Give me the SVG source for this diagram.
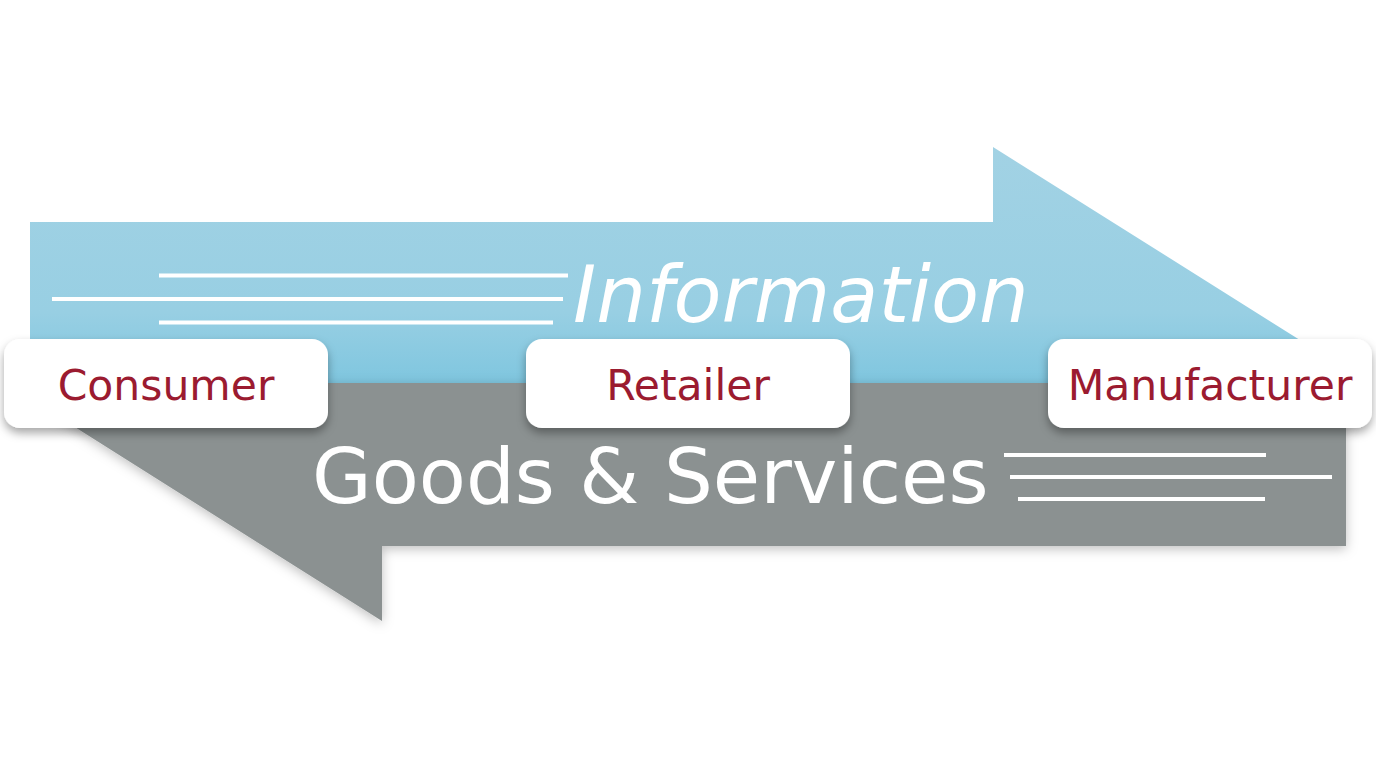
<svg xmlns="http://www.w3.org/2000/svg" width="1376" height="768" viewBox="0 0 1376 768">
<defs>
<linearGradient id="blueG" x1="0" y1="0" x2="0" y2="1">
<stop offset="0" stop-color="#a2d2e4"/>
<stop offset="0.7" stop-color="#98cfe3"/>
<stop offset="1" stop-color="#7fc6df"/>
</linearGradient>
<filter id="sh" x="-10%" y="-20%" width="120%" height="160%">
<feDropShadow dx="0" dy="5" stdDeviation="5" flood-color="#000" flood-opacity="0.35"/>
</filter>
<filter id="sh2" x="-5%" y="-20%" width="110%" height="140%">
<feDropShadow dx="0" dy="3" stdDeviation="6" flood-color="#000" flood-opacity="0.25"/>
</filter>
</defs>
<style>
.line{stroke:#ffffff;stroke-width:4;}
.big{font-family:"DejaVu Sans",Verdana,sans-serif;fill:#ffffff;}
.box{fill:#ffffff;filter:url(#sh);}
.lbl{font-family:"DejaVu Sans",Verdana,sans-serif;font-size:42.5px;fill:#9b1b30;text-anchor:middle;}
</style>
<rect width="1376" height="768" fill="#ffffff"/>
<g id="connectors">
<polygon id="info-arrow" points="30,222 993,222 993,147 1335,362 1300,383 30,383" fill="url(#blueG)"/>
<polygon id="goods-arrow" filter="url(#sh2)" points="1346,383 1346,546 382,546 382,621 40,405 60,383" fill="#8b9191"/>
<g id="info-lines">
<line class="line" x1="159" y1="275.5" x2="568" y2="275.5"/>
<line class="line" x1="52" y1="299" x2="563" y2="299"/>
<line class="line" x1="159" y1="322.5" x2="553" y2="322.5"/>
</g>
<g id="goods-lines">
<line class="line" x1="1004" y1="455" x2="1266" y2="455"/>
<line class="line" x1="1010" y1="477" x2="1332" y2="477"/>
<line class="line" x1="1018" y1="499" x2="1265" y2="499"/>
</g>
<text class="big" x="573" y="322" font-size="78.5" font-style="italic">Information</text>
<text class="big" x="312" y="503" font-size="77">Goods &amp; Services</text>
</g>
<g id="consumer">
<rect class="box" x="4" y="339" width="324" height="89" rx="16"/>
<text class="lbl" x="166" y="400">Consumer</text>
</g>
<g id="retailer">
<rect class="box" x="526" y="339" width="324" height="89" rx="16"/>
<text class="lbl" x="688" y="400">Retailer</text>
</g>
<g id="manufacturer">
<rect class="box" x="1048" y="339" width="324" height="89" rx="16"/>
<text class="lbl" x="1210" y="400">Manufacturer</text>
</g>
</svg>
